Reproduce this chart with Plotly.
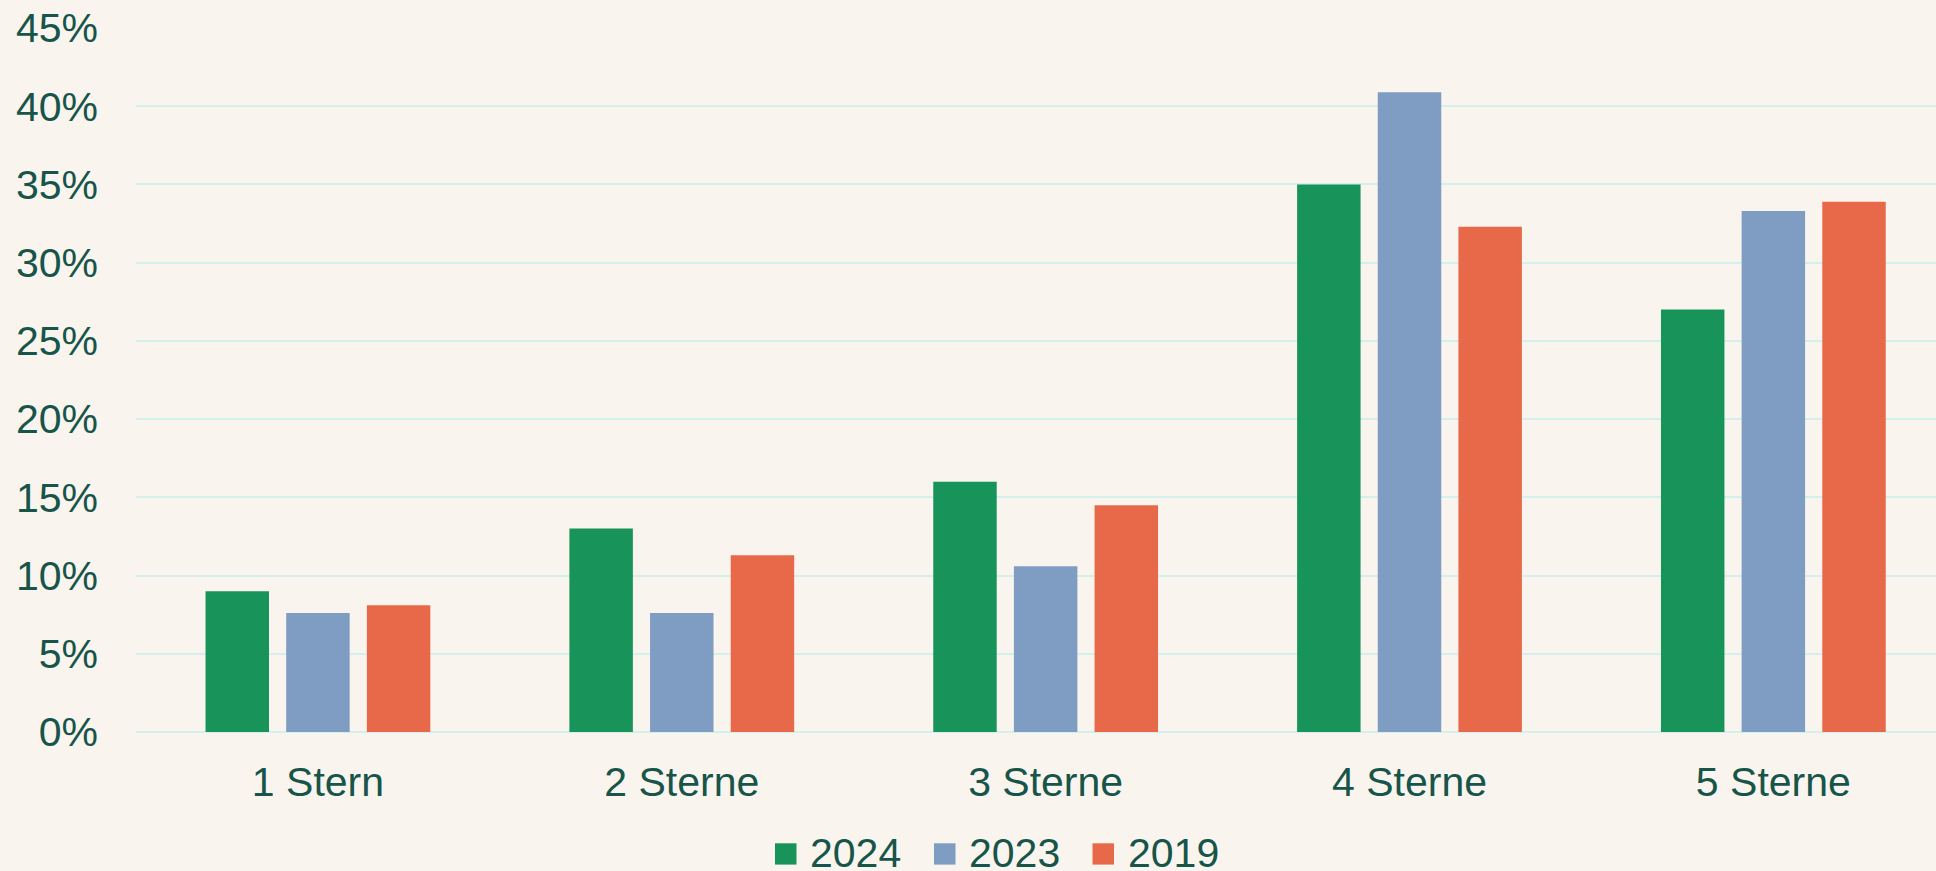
import plotly.graph_objects as go

categories = ["1 Stern", "2 Sterne", "3 Sterne", "4 Sterne", "5 Sterne"]
series_names = ["2024", "2023", "2019"]
values_2024 = [0.090, 0.130, 0.160, 0.350, 0.270]
values_2023 = [0.076, 0.076, 0.106, 0.409, 0.333]
values_2019 = [0.081, 0.113, 0.145, 0.323, 0.339]
colors = ["#18945A", "#7F9CC3", "#E8694A"]
y_ticks = [0, 0.05, 0.10, 0.15, 0.20, 0.25, 0.30, 0.35, 0.40, 0.45]

TEXT = "#17544A"
BG = "#F9F5EE"
GRID = "#D3F0EC"
FONT = "Liberation Sans, Arial, sans-serif"

W, H = 1936, 871
L, R, T, B = 136, 0, 28, 139
pw, ph = W - L - R, H - T - B

fig = go.Figure()
for name, vals, col in zip(series_names, [values_2024, values_2023, values_2019], colors):
    fig.add_trace(go.Bar(x=categories, y=vals, name=name, marker=dict(color=col, line=dict(width=0)),
                         showlegend=False))

# manual legend (swatches + text), positions in pixels converted to paper coords
legend_left_px = [775, 934, 1092.5]
sw = 21.5
sw_top, sw_bot = 843.3, 864.6
shapes = []
annotations = []
for name, col, lx in zip(series_names, colors, legend_left_px):
    shapes.append(dict(type="rect", xref="paper", yref="paper",
                       x0=(lx - L) / pw, x1=(lx + sw - L) / pw,
                       y0=(H - B - sw_bot) / ph, y1=(H - B - sw_top) / ph,
                       fillcolor=col, line=dict(width=0)))
    annotations.append(dict(text=name, xref="paper", yref="paper",
                            x=(lx + 33 - L) / pw, y=(H - B - 853) / ph,
                            xanchor="left", yanchor="middle", showarrow=False,
                            font=dict(size=41, color=TEXT, family=FONT)))

fig.update_layout(
    width=W, height=H,
    margin=dict(l=L, r=R, t=T, b=B, pad=0),
    paper_bgcolor=BG, plot_bgcolor=BG,
    barmode="group", bargap=0.335, bargroupgap=0.213,
    font=dict(family=FONT, size=41, color=TEXT),
    shapes=shapes, annotations=annotations,
    xaxis=dict(range=[-0.5, 4.447], showgrid=False, showline=False, zeroline=False,
               ticks="", ticklabelstandoff=22, tickfont=dict(size=41, color=TEXT)),
    yaxis=dict(range=[0, 0.45], tickvals=y_ticks, tickformat=".0%", showgrid=True,
               gridcolor=GRID, gridwidth=2, zeroline=True, zerolinecolor=GRID, zerolinewidth=2,
               showline=False, ticks="", ticklabelstandoff=37, tickfont=dict(size=41, color=TEXT)),
)

fig.write_html("out.html", config={"displayModeBar": False},
               post_script="document.body.style.margin='0';document.body.style.overflow='hidden';")
